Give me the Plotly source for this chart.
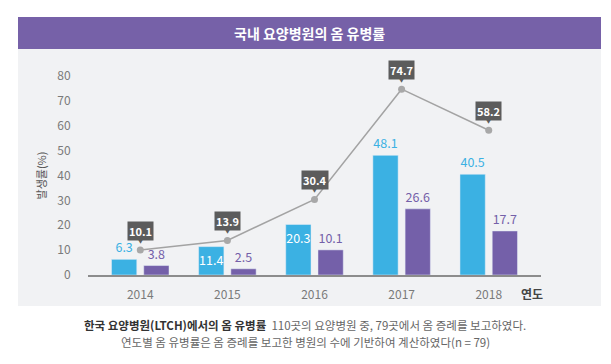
import plotly.graph_objects as go

years = ["2014", "2015", "2016", "2017", "2018"]
blue_vals = [6.3, 11.4, 20.3, 48.1, 40.5]
purple_vals = [3.8, 2.5, 10.1, 26.6, 17.7]
line_vals = [10.1, 13.9, 30.4, 74.7, 58.2]
y_ticks = [0, 10, 20, 30, 40, 50, 60, 70, 80]
blue_text_pos = ["outside", "inside", "inside", "outside", "outside"]

FONT = "Noto Sans CJK KR"
BLUE = "#3bb1e3"
PURPLE = "#7460a9"
OFF = 8  # page body margin compensation
W, H = 611 - OFF, 364 - OFF
L, R, T, B = 88 - OFF, 541 - OFF, 76 - OFF, 275 - OFF

def px(x):
    return (x - OFF - L) / (R - L)

def py(y):
    return (B - (y - OFF)) / (B - T)

xs = list(range(len(years)))

fig = go.Figure()
fig.add_trace(go.Bar(x=xs, y=blue_vals, width=0.29, offset=-0.33, marker_color=BLUE,
                     text=[f"{v:.1f}" for v in blue_vals], textposition=blue_text_pos,
                     insidetextanchor="end", constraintext="none", textangle=0,
                     textfont=dict(color=[BLUE if p == "outside" else "white" for p in blue_text_pos],
                                   size=12.5, family=FONT), cliponaxis=False))
fig.add_trace(go.Bar(x=xs, y=purple_vals, width=0.29, offset=0.04, marker_color=PURPLE,
                     text=[f"{v:.1f}" for v in purple_vals], textposition="outside",
                     constraintext="none", textangle=0,
                     textfont=dict(color=PURPLE, size=12.5, family=FONT), cliponaxis=False))
fig.add_trace(go.Scatter(x=xs, y=line_vals, mode="lines+markers",
                         line=dict(color="#a3a3a3", width=1.5),
                         marker=dict(color="#a8a8a8", size=7), cliponaxis=False))

annotations = []
for x, v in zip(xs, line_vals):
    annotations.append(dict(x=x, y=v, xref="x", yref="y", text=f"<b>{v:.1f}</b>", showarrow=False,
                            yshift=19, bgcolor="#5c5c5c", borderpad=1,
                            xanchor="center", yanchor="middle",
                            font=dict(color="white", size=11, family=FONT)))
    annotations.append(dict(x=x, y=v, xref="x", yref="y", text="▼", showarrow=False,
                            yshift=10, xanchor="center", yanchor="middle",
                            font=dict(color="#5c5c5c", size=7, family=FONT)))

def note(x, y, text, size, color, xanchor="center"):
    annotations.append(dict(x=px(x), y=py(y), xref="paper", yref="paper", text=text,
                            showarrow=False, xanchor=xanchor, yanchor="middle",
                            font=dict(color=color, size=size, family=FONT)))

note(309, 33, "<b>국내 요양병원의 옴 유병률</b>", 14, "white")
note(532, 293, "<b>연도</b>", 12, "#444")
note(305, 325, "<b><span style='color:#333'>한국 요양병원(LTCH)에서의 옴 유병률</span></b>  110곳의 요양병원 중, 79곳에서 옴 증례를 보고하였다.", 11.5, "#666")
note(305, 342, "연도별 옴 유병률은 옴 증례를 보고한 병원의 수에 기반하여 계산하였다(n = 79)", 11.5, "#666")

shapes = [
    dict(type="rect", xref="paper", yref="paper", x0=px(18), x1=px(601), y0=py(306), y1=py(49),
         fillcolor="#f1f2f4", line=dict(width=0), layer="below"),
    dict(type="rect", xref="paper", yref="paper", x0=px(18), x1=px(601), y0=py(49), y1=py(17),
         fillcolor="#7661a8", line=dict(width=0), layer="below"),
]

fig.update_layout(
    width=W, height=H,
    margin=dict(l=L, r=W - R, t=T, b=H - B),
    paper_bgcolor="white", plot_bgcolor="rgba(0,0,0,0)",
    showlegend=False,
    barmode="overlay",
    font=dict(family=FONT),
    annotations=annotations, shapes=shapes,
    xaxis=dict(range=[-0.6, 4.6], tickmode="array", tickvals=xs, ticktext=years,
               showgrid=False, zeroline=False, showline=True, linecolor="#8c8c8c", linewidth=1.5,
               tickfont=dict(color="#7a7a7a", size=12, family=FONT), ticks="outside", ticklen=8,
               tickcolor="rgba(0,0,0,0)", fixedrange=True),
    yaxis=dict(range=[0, 80], tickmode="array", tickvals=y_ticks, showgrid=False, zeroline=False,
               showline=False, tickfont=dict(color="#7a7a7a", size=12, family=FONT),
               ticks="outside", ticklen=14, tickcolor="rgba(0,0,0,0)",
               title=dict(text="발생률(%)", standoff=8, font=dict(color="#555", size=11, family=FONT))),
)

fig.write_html("out.html")
